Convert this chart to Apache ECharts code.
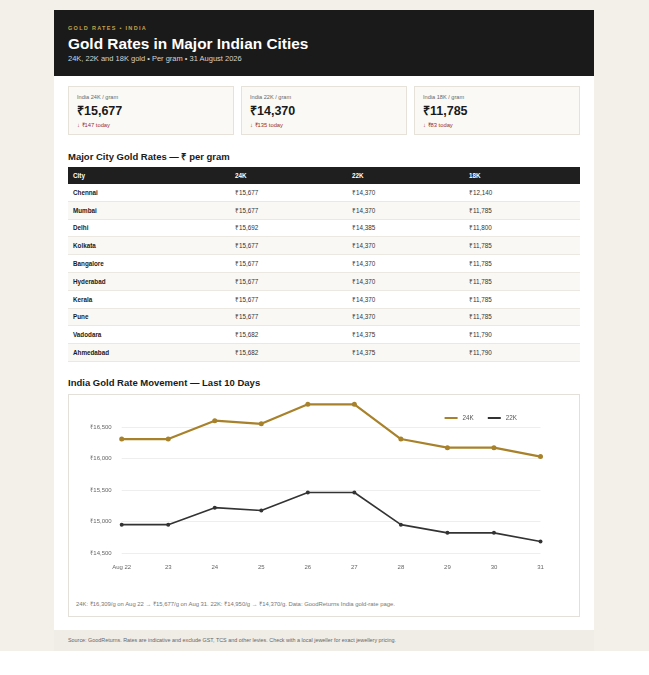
<!DOCTYPE html>
<html>
<head>
<meta charset="utf-8">
<title>Gold Rates in Major Indian Cities</title>
<script src="https://cdn.jsdelivr.net/npm/echarts@6/dist/echarts.min.js"></script>
<style>
html { background: #ffffff; }
body {
	margin: 0;
	padding: 10px 0 0 0;
	background: #f3f0ea;
	font-family: "Liberation Sans", Arial, sans-serif;
	color: #1a1a1a;
}
.page {
	width: 540px;
	margin-left: 54px;
	background: #ffffff;
}
.hero {
	background: #1a1a1a;
	height: 66px;
	padding: 0 14px;
	box-sizing: border-box;
	position: relative;
}
.kicker {
	position: absolute; top: 15px; left: 14px;
	font-size: 5.5px; font-weight: bold; letter-spacing: 1.3px;
	color: #c9a24c;
}
.hero h1 {
	position: absolute; top: 25px; left: 14px; margin: 0;
	font-size: 15.4px; font-weight: bold; color: #ffffff;
}
.hero .sub {
	position: absolute; top: 44px; left: 14px;
	font-size: 7.5px; color: #d4d4d4;
}
.body { padding: 10px 14px 0 14px; }
.kpis { display: flex; justify-content: space-between; }
.kpi {
	width: 166px; height: 49px; box-sizing: border-box;
	background: #faf9f6; border: 1px solid #e6e2da;
	padding: 7px 0 0 8px;
}
.kpi .lab { font-size: 5.6px; color: #666; }
.kpi .val { font-size: 12.5px; font-weight: bold; margin-top: 2px; }
.kpi .chg { font-size: 5.8px; color: #9b2c2c; margin-top: 2px; }
h2 {
	font-size: 9.5px; font-weight: bold; margin: 0;
}
.sec1 { margin-top: 15px; }
table {
	width: 512px; border-collapse: collapse; margin-top: 4px;
	font-size: 6.3px;
}
th {
	background: #1f1f1f; color: #ffffff; text-align: left;
	height: 17px; padding: 0 0 0 5px; font-weight: bold;
}
td {
	height: 16.8px; padding: 0 0 0 5px; border-bottom: 0.8px solid #ebe8e2;
	color: #333;
}
td.city { font-weight: bold; color: #1a1a1a; }
tr:nth-child(odd) td { background: #faf8f4; }
.sec2 { margin-top: 15px; }
.chartbox {
	margin-top: 6px; width: 512px; height: 223px; box-sizing: border-box;
	border: 1px solid #e3e0da; background: #fff;
}
#trend { width: 510px; height: 200px; }
.note { font-size: 5.9px; color: #777; padding: 5px 0 0 7px; }
.foot {
	margin-top: 13px; background: #f0ede6; height: 21px; box-sizing: border-box;
	padding: 7px 14px 0 14px; font-size: 5.4px; color: #666;
}
</style>
</head>
<body>
<div class="page">
	<div class="hero">
		<div class="kicker">GOLD RATES • INDIA</div>
		<h1>Gold Rates in Major Indian Cities</h1>
		<div class="sub">24K, 22K and 18K gold • Per gram • 31 August 2026</div>
	</div>
	<div class="body">
		<div class="kpis" id="kpis"></div>
		<h2 class="sec1">Major City Gold Rates — ₹ per gram</h2>
		<table id="rates"></table>
		<h2 class="sec2">India Gold Rate Movement — Last 10 Days</h2>
		<div class="chartbox">
			<div id="trend"></div>
			<div class="note">24K: ₹16,309/g on Aug 22 → ₹15,677/g on Aug 31. 22K: ₹14,950/g → ₹14,370/g. Data: GoodReturns India gold-rate page.</div>
		</div>
	</div>
	<div class="foot">Source: GoodReturns. Rates are indicative and exclude GST, TCS and other levies. Check with a local jeweller for exact jewellery pricing.</div>
</div>
<script>
// headline cards
var kpiLabels = ['India 24K / gram', 'India 22K / gram', 'India 18K / gram'];
var kpiValues = ['₹15,677', '₹14,370', '₹11,785'];
var kpiChanges = ['↓ ₹147 today', '↓ ₹135 today', '↓ ₹83 today'];

// city table
var tableHead = ['City', '24K', '22K', '18K'];
var cities = ['Chennai', 'Mumbai', 'Delhi', 'Kolkata', 'Bangalore', 'Hyderabad', 'Kerala', 'Pune', 'Vadodara', 'Ahmedabad'];
var rate24 = ['₹15,677', '₹15,677', '₹15,692', '₹15,677', '₹15,677', '₹15,677', '₹15,677', '₹15,677', '₹15,682', '₹15,682'];
var rate22 = ['₹14,370', '₹14,370', '₹14,385', '₹14,370', '₹14,370', '₹14,370', '₹14,370', '₹14,370', '₹14,375', '₹14,375'];
var rate18 = ['₹12,140', '₹11,785', '₹11,800', '₹11,785', '₹11,785', '₹11,785', '₹11,785', '₹11,785', '₹11,790', '₹11,790'];

// last 10 days
var days = ['Aug 22', '23', '24', '25', '26', '27', '28', '29', '30', '31'];
var gold24 = [16309, 16309, 16600, 16550, 16860, 16860, 16309, 16172, 16172, 16030];
var gold22 = [14950, 14950, 15220, 15175, 15460, 15460, 14950, 14820, 14820, 14682];
var yTicks = [14500, 15000, 15500, 16000, 16500, 17000];

var kpiHtml = '';
for (var i = 0; i < kpiLabels.length; i++) {
	kpiHtml += '<div class="kpi"><div class="lab">' + kpiLabels[i] + '</div><div class="val">' +
		kpiValues[i] + '</div><div class="chg">' + kpiChanges[i] + '</div></div>';
}
document.getElementById('kpis').innerHTML = kpiHtml;

var t = '<tr>';
tableHead.forEach(function (h) { t += '<th>' + h + '</th>'; });
t += '</tr>';
for (var r = 0; r < cities.length; r++) {
	t += '<tr><td class="city" style="width:157px">' + cities[r] + '</td><td style="width:112px">' + rate24[r] +
		'</td><td style="width:112px">' + rate22[r] + '</td><td>' + rate18[r] + '</td></tr>';
}
document.getElementById('rates').innerHTML = t;
document.querySelector('#rates th:nth-child(1)').style.width = '157px';
document.querySelector('#rates th:nth-child(2)').style.width = '112px';
document.querySelector('#rates th:nth-child(3)').style.width = '112px';

var trend = echarts.init(document.getElementById('trend'));
var option = {
	animation: false,
	legend: {
		data: ['24K', '22K'],
		right: 57,
		top: 15,
		itemWidth: 13,
		itemHeight: 2,
		itemGap: 14,
		icon: 'rect',
		textStyle: { color: '#555', fontSize: 6.3, fontFamily: 'Liberation Sans' }
	},
	grid: { left: 52.7, right: 38.5, top: 0.5, bottom: 42 },
	xAxis: {
		type: 'category',
		boundaryGap: false,
		data: days,
		axisLine: { show: false },
		axisTick: { show: false },
		axisLabel: { color: '#666', fontSize: 6, margin: 11, fontFamily: 'Liberation Sans' }
	},
	yAxis: {
		type: 'value',
		min: yTicks[0],
		max: yTicks[yTicks.length - 1],
		interval: 500,
		axisLine: { show: false },
		axisTick: { show: false },
		splitLine: { showMaxLine: false, lineStyle: { color: '#eeeeee', width: 1 } },
		axisLabel: {
			color: '#666', fontSize: 6, margin: 10, showMaxLabel: false,
			fontFamily: 'Liberation Sans',
			formatter: function (v) { return '₹' + v.toLocaleString('en-IN'); }
		}
	},
	series: [
		{
			name: '24K', type: 'line', data: gold24,
			symbol: 'circle', symbolSize: 5,
			lineStyle: { color: '#a8822a', width: 2.2 },
			itemStyle: { color: '#a8822a' }
		},
		{
			name: '22K', type: 'line', data: gold22,
			symbol: 'circle', symbolSize: 4,
			lineStyle: { color: '#333333', width: 1.6 },
			itemStyle: { color: '#333333' }
		}
	]
};
trend.setOption(option);
</script>
</body>
</html>
